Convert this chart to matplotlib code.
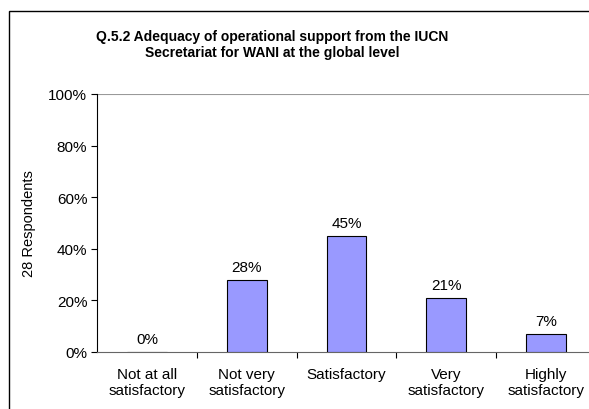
import matplotlib.pyplot as plt
from matplotlib.patches import Rectangle

categories = ["Not at all\nsatisfactory", "Not very\nsatisfactory", "Satisfactory",
              "Very\nsatisfactory", "Highly\nsatisfactory"]
values = [0, 28, 45, 21, 7]
yticks = [0, 20, 40, 60, 80, 100]

plt.rcParams['font.family'] = ['Liberation Sans', 'DejaVu Sans']

W, H = 589, 410
fig = plt.figure(figsize=(W / 100, H / 100), dpi=100)

# outer chart frame (runs off the right and bottom edge)
fig.patches.append(Rectangle((9 / W, -0.1), 1.2, 1 - 12 / H + 0.1, transform=fig.transFigure,
                             fill=False, edgecolor='black', linewidth=1.0))

ax = fig.add_axes([97 / W, (H - 353) / H, (596 - 97) / W, (353 - 95) / H])
x = range(len(categories))
ax.bar(x, values, width=0.4, color='#9999FF', edgecolor='black', linewidth=0.8, zorder=3)

for i, v in enumerate(values):
    ax.annotate(f"{v}%", (i, v), xytext=(0, 4), textcoords='offset points',
                ha='center', va='bottom', fontsize=11)

ax.set_xlim(-0.5, len(categories) - 0.5)
ax.set_ylim(0, 100)
ax.set_yticks(yticks)
ax.set_yticklabels([f"{t}%" for t in yticks], fontsize=11)
ax.set_xticks([i + 0.5 for i in range(len(categories) - 1)])
ax.set_xticklabels([])
ax.set_xticks(list(x), minor=True)
ax.set_xticklabels(categories, minor=True, fontsize=11, linespacing=1.15)
ax.tick_params(axis='x', which='minor', length=0, pad=11)
ax.tick_params(axis='x', which='major', direction='out', length=4, color='black')
ax.tick_params(axis='y', direction='out', length=4, pad=3)

ax.axhline(100, color='#999999', linewidth=0.8, zorder=1)
for s in ['top', 'right']:
    ax.spines[s].set_visible(False)
ax.spines['left'].set_color('black')
ax.spines['bottom'].set_color('#666666')

ax.set_ylabel("28 Respondents", fontsize=10.5, labelpad=9)

fig.text(272 / W, 1 - 45 / H, "Q.5.2 Adequacy of operational support from the IUCN\nSecretariat for WANI at the global level",
         ha='center', va='center', multialignment='center', fontsize=10,
         fontweight='bold', linespacing=1.2)

fig.savefig("out.png", dpi=100)
